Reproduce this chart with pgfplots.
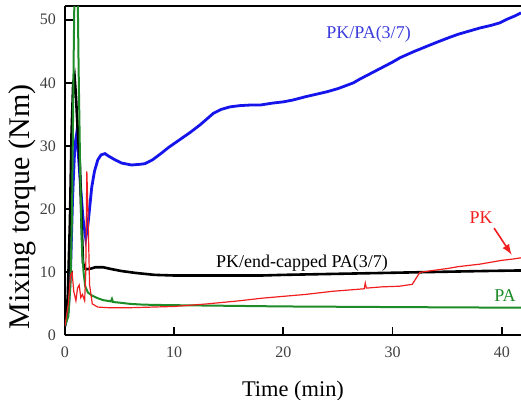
\documentclass[border=0pt]{standalone}
\usepackage{pgfplots}
\pgfplotsset{compat=1.18}
\usepackage{fontspec}
\setmainfont{Liberation Serif}
\definecolor{cblue}{RGB}{20,20,235}
\definecolor{cred}{RGB}{240,30,30}
\definecolor{cgreen}{RGB}{30,140,40}
\definecolor{lblue}{RGB}{60,60,220}
\begin{document}
\begin{tikzpicture}
\begin{axis}[
  name=ax,
  scale only axis,
  width=228pt, height=164.5pt,
  xmin=0, xmax=41.76, ymin=0, ymax=52.1,
  axis x line=box, axis y line=left,
  axis line style={-, line width=1pt},
  every outer x axis line/.append style={-},
  every outer y axis line/.append style={-},
  xtick={0,10,20,30,40}, ytick={0,10,20,30,40,50},
  xtick pos=bottom, ytick pos=left,
  tick align=inside, major tick length=4pt,
  tick style={line width=0.9pt, black},
  /pgf/number format/assume math mode=true,
  ticklabel style={font=\fontsize{8}{9}\selectfont, text=black!75},
  xticklabel style={yshift=-2pt},
  yticklabel style={xshift=-1pt},
  xlabel={Time (min)}, ylabel={Mixing torque (Nm)},
  xlabel style={font=\fontsize{11.2}{13}\selectfont, yshift=-5pt},
  ylabel style={font=\fontsize{15}{17}\selectfont, yshift=-5pt, xshift=-18pt},
  clip=true,
]
% PK/PA(3/7)
\addplot[cblue, line width=1.4pt] coordinates {
(0,1.5)(0.3,4)(0.5,10)(0.7,22)(0.9,30)(1.07,32)(1.25,28)(1.45,23)(1.65,18.5)(1.9,15.4)(2.1,17.5)(2.45,23.5)(2.7,26)(3.0,27.8)(3.3,28.6)(3.66,28.8)(4.0,28.4)(4.6,27.8)(5.2,27.3)(6.1,27.0)(6.8,27.1)(7.3,27.2)(8.0,27.8)(8.85,28.9)(9.5,29.8)(10.5,31.0)(11.5,32.2)(12.4,33.4)(13.0,34.3)(13.6,35.2)(14.3,35.8)(15.1,36.2)(16,36.4)(17,36.5)(17.9,36.5)(19,36.8)(20,37.0)(20.9,37.3)(22,37.8)(23,38.2)(24,38.6)(25,39.1)(26.4,40.0)(27,40.6)(28,41.5)(29,42.4)(30,43.3)(30.7,44.0)(32,45.0)(33,45.7)(34,46.4)(35.2,47.2)(36,47.7)(37,48.2)(38,48.7)(39,49.1)(39.8,49.5)(40.5,50.1)(41.2,50.6)(41.76,51.1)
};
% PK/end-capped PA(3/7)
\addplot[black, line width=1.3pt] coordinates {
(0,1.5)(0.25,6)(0.45,18)(0.6,32)(0.75,40)(0.88,41)(1.0,38)(1.15,33)(1.37,26.7)(1.5,19)(1.65,11.5)(1.8,10.6)(2.0,10.5)(2.4,10.6)(2.75,10.8)(3.5,10.8)(4.3,10.5)(5.2,10.2)(6.5,9.9)(8.2,9.6)(10,9.5)(12,9.5)(15,9.5)(18,9.5)(20,9.6)(23,9.7)(26,9.8)(29,9.9)(32,10.0)(35,10.1)(38,10.2)(41.76,10.3)
};
% PA
\addplot[cgreen, line width=1pt] coordinates {
(0,1.5)(0.3,3)(0.5,8)(0.65,20)(0.8,45)(0.88,56)(1.15,56)(1.25,42)(1.4,25)(1.55,14)(1.7,10)(1.85,7.8)(2.1,6.8)(2.5,6.3)(3,5.9)(3.5,5.6)(4.2,5.4)(4.3,5.8)(4.4,5.3)(5,5.2)(6,5.0)(7,4.9)(8,4.85)(10,4.8)(15,4.7)(20,4.6)(30,4.5)(41.76,4.4)
};
% PK
\addplot[cred, line width=0.6pt] coordinates {
(0,1.5)(0.3,5)(0.5,9.5)(0.65,10)(0.8,7)(1.0,5.5)(1.15,7.5)(1.3,8)(1.45,6)(1.6,6.5)(1.8,5.5)(1.9,10)(2.0,26)(2.1,20)(2.25,8)(2.5,5)(3,4.5)(4,4.4)(6,4.4)(8,4.5)(10,4.6)(13,5.0)(16,5.5)(18,5.9)(20,6.2)(22,6.5)(24.5,7.0)(26,7.2)(27.4,7.4)(27.5,8.3)(27.6,7.5)(29,7.7)(30.6,7.8)(31.8,8.1)(32.5,10.0)(33.7,10.3)(35,10.6)(36,10.9)(37,11.1)(38,11.3)(39,11.6)(40,11.9)(41,12.1)(41.76,12.3)
};
\node[text=lblue, font=\fontsize{9}{10}\selectfont] at (axis cs:27.8,47.7) {PK/PA(3/7)};
\node[text=black, font=\fontsize{9}{10}\selectfont] at (axis cs:21.7,11.4) {PK/end-capped PA(3/7)};
\node[text=cred, font=\fontsize{9}{10}\selectfont] at (axis cs:38.1,18.6) {PK};
\node[text=cgreen, font=\fontsize{9}{10}\selectfont] at (axis cs:40.3,6.4) {PA};
\draw[cred, line width=0.8pt, -latex] (axis cs:39.3,17.0) -- (axis cs:40.9,12.8);
\end{axis}
\pgfresetboundingbox
\path ([shift={(-32.5pt,-32.25pt)}]ax.south west) rectangle ([shift={(0pt,3.25pt)}]ax.north east);
\end{tikzpicture}
\end{document}
